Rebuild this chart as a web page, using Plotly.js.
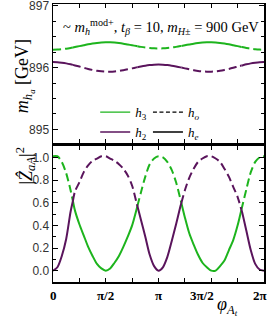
<!DOCTYPE html>
<html>
<head>
<meta charset="utf-8">
<script src="https://cdn.plot.ly/plotly-3.0.1.min.js"></script>
<style>html,body{margin:0;padding:0;background:#fff;}#chart{width:271px;height:325px;}</style>
</head>
<body>
<div id="chart"></div>
<script>
// phase phi_{A_t} in degrees (sample grid)
const phiDeg = [0,7.5,15,22.5,30,37.5,45,52.5,60,67.5,75,82.5,90,97.5,105,112.5,120,127.5,135,142.5,150,157.5,165,172.5,180,187.5,195,202.5,210,217.5,225,232.5,240,247.5,255,262.5,270,277.5,285,292.5,300,307.5,315,322.5,330,337.5,345,352.5,360];
// |Z_aA|^2 (lower panel)
const zH3 = [1.01,1.01,0.96,0.86,0.71,0.53,0.41,0.31,0.21,0.13,0.06,0.02,0.00,0.02,0.07,0.13,0.21,0.30,0.40,0.54,0.69,0.83,0.94,0.99,1.01,1.00,0.96,0.89,0.78,0.63,0.47,0.33,0.23,0.14,0.07,0.03,0.00,0.00,0.04,0.09,0.18,0.27,0.40,0.56,0.72,0.87,0.96,1.00,1.01];
const zH2 = [0.00,0.03,0.13,0.28,0.52,0.70,0.78,0.87,0.93,0.97,0.99,1.01,1.01,0.99,0.97,0.94,0.90,0.84,0.75,0.60,0.45,0.30,0.14,0.04,0.00,0.03,0.12,0.26,0.41,0.57,0.71,0.82,0.90,0.96,0.99,1.01,1.01,0.99,0.96,0.90,0.83,0.74,0.65,0.52,0.35,0.18,0.06,0.01,0.00];
// masses m_{h_a} in GeV (upper panel)
const mH3 = [896.290,896.292,896.298,896.307,896.319,896.333,896.348,896.363,896.378,896.390,896.400,896.407,896.410,896.409,896.405,896.398,896.388,896.375,896.362,896.349,896.336,896.325,896.317,896.312,896.310,896.312,896.317,896.325,896.336,896.349,896.362,896.375,896.388,896.398,896.405,896.409,896.410,896.407,896.400,896.390,896.378,896.363,896.348,896.333,896.319,896.307,896.298,896.292,896.290];
const mH2 = [896.090,896.088,896.080,896.069,896.054,896.036,896.017,895.997,895.979,895.963,895.949,895.940,895.935,895.935,895.939,895.947,895.959,895.973,895.988,896.004,896.019,896.032,896.042,896.048,896.050,896.048,896.042,896.032,896.019,896.004,895.988,895.973,895.959,895.947,895.939,895.935,895.935,895.940,895.949,895.963,895.979,895.997,896.017,896.036,896.054,896.069,896.080,896.088,896.090];
// x tick labels
const xTickVals = [0, Math.PI/2, Math.PI, 3*Math.PI/2, 2*Math.PI];
const xTickText = ['0', 'π/2', 'π', '3π/2', '2π'];
const xTickShift = [0, 0, 0, -9, -4];
const legendNames = ['<i>h</i><sub>3</sub>', '<i>h</i><sub>2</sub>', '<i>h</i><sub><i>o</i></sub>', '<i>h</i><sub><i>e</i></sub>'];

const GREEN = '#1db41d', PURPLE = '#5a145c';
const phi = phiDeg.map(d => d * Math.PI / 180);

function crossings(a, b) {
  const out = [];
  for (let i = 1; i < a.length; i++) {
    const d0 = a[i-1] - b[i-1], d1 = a[i] - b[i];
    if (d0 * d1 < 0) out.push(i - 1 + d0 / (d0 - d1));
  }
  return out;
}
function lerp(arr, f) {
  const i = Math.floor(f), t = f - i;
  if (i >= arr.length - 1) return arr[arr.length - 1];
  return arr[i] * (1 - t) + arr[i+1] * t;
}
const cuts = crossings(zH3, zH2);
function pieces(ys, cutsArr) {
  const bounds = [0, ...cutsArr, ys.length - 1];
  const res = [];
  for (let s = 0; s < bounds.length - 1; s++) {
    const f0 = bounds[s], f1 = bounds[s+1];
    const px = [lerp(phi, f0)], py = [lerp(ys, f0)];
    for (let i = Math.floor(f0) + 1; i < f1; i++) { px.push(phi[i]); py.push(ys[i]); }
    px.push(lerp(phi, f1)); py.push(lerp(ys, f1));
    const mid = Math.round((f0 + f1) / 2);
    res.push({x: px, y: py, h3dom: zH3[mid] > zH2[mid]});
  }
  return res;
}
const traces = [];
function addCurve(ys, color, isH3, xa, ya) {
  pieces(ys, cuts).forEach(p => {
    const dashed = isH3 ? p.h3dom : !p.h3dom;
    traces.push({x: p.x, y: p.y, xaxis: xa, yaxis: ya, mode: 'lines', showlegend: false, hoverinfo: 'skip',
      line: {color: color, width: 2, dash: dashed ? '8px,4px' : 'solid', shape: 'spline', smoothing: 0.8}});
  });
}
addCurve(mH3, GREEN, true, 'x', 'y');
addCurve(mH2, PURPLE, false, 'x', 'y');
addCurve(zH3, GREEN, true, 'x2', 'y2');
addCurve(zH2, PURPLE, false, 'x2', 'y2');

// legend entries
const legStyles = [
  {color: GREEN, dash: 'solid', legend: 'legend'},
  {color: PURPLE, dash: 'solid', legend: 'legend'},
  {color: '#000', dash: '4px,2.5px', legend: 'legend2'},
  {color: '#000', dash: 'solid', legend: 'legend2'}
];
legendNames.forEach((n, i) => {
  traces.push({x: [null], y: [null], xaxis: 'x', yaxis: 'y', mode: 'lines', name: n,
    legend: legStyles[i].legend, showlegend: true,
    line: {color: legStyles[i].color, width: 1.3, dash: legStyles[i].dash}});
});

const serif = 'Liberation Serif, DejaVu Serif, serif';
const sans = 'Liberation Sans, Arial, sans-serif';
const axisCommon = {
  showline: true, linecolor: '#000', linewidth: 1.5, mirror: 'allticks',
  ticks: 'inside', tickcolor: '#000', tickwidth: 1, showgrid: false, zeroline: false,
  ticklabeloverflow: 'allow',
  tickfont: {family: sans, size: 12, color: '#333'}
};
const annotations = [];
xTickVals.forEach((v, i) => {
  annotations.push({x: v, xref: 'x2', y: -0.047, yref: 'paper', text: xTickText[i], showarrow: false,
    xshift: xTickShift[i], xanchor: 'center', yanchor: 'middle',
    font: {family: serif, size: 13, color: '#000', weight: 'bold'}});
});
annotations.push({x: 0.885, y: -0.137, xref: 'paper', yref: 'paper', showarrow: false,
  text: '<i>φ</i><sub><i>A</i><sub><i>t</i></sub></sub>', font: {family: serif, size: 18, color: '#000'}});
annotations.push({x: -0.2, y: 0.88, xref: 'paper', yref: 'paper', showarrow: false, textangle: -90,
  text: '<i>m</i><sub><i>h</i><sub><i>a</i></sub></sub> [GeV]', font: {family: serif, size: 18, color: '#000'}});
annotations.push({x: -0.2, y: 0.42, xref: 'paper', yref: 'paper', showarrow: false, textangle: -90,
  text: '|<i>Ẑ</i><sub><i>aA</i></sub>|<sup>2</sup>', font: {family: serif, size: 18, color: '#000'}});
annotations.push({x: 0.51, y: 0.96, xref: 'paper', yref: 'paper', showarrow: false,
  text: '~ <i>m</i><sub><i>h</i></sub><sup>mod+</sup>, <i>t</i><sub><i>β</i></sub> = 10, <i>m</i><sub><i>H</i>±</sub> = 900 GeV',
  font: {family: serif, size: 14.5, color: '#000'}});

const layout = {
  width: 271, height: 325,
  margin: {l: 53, r: 7, t: 4, b: 43},
  paper_bgcolor: '#fff', plot_bgcolor: '#fff',
  showlegend: true,
  xaxis: Object.assign({}, axisCommon, {domain: [0, 1], range: [0, 2*Math.PI], anchor: 'y',
    tickmode: 'linear', tick0: 0, dtick: Math.PI/2, ticklen: 4, showticklabels: false,
    minor: {dtick: Math.PI/4, ticklen: 4, tickcolor: '#000', ticks: 'inside'}}),
  yaxis: Object.assign({}, axisCommon, {domain: [0.5, 1], range: [894.78, 897.03], anchor: 'x',
    tickmode: 'linear', tick0: 895, dtick: 1, ticklen: 5,
    minor: {dtick: 0.25, ticklen: 3, tickcolor: '#000', ticks: 'inside'}}),
  xaxis2: Object.assign({}, axisCommon, {domain: [0, 1], range: [0, 2*Math.PI], anchor: 'y2',
    tickmode: 'linear', tick0: 0, dtick: Math.PI/2, ticklen: 4, showticklabels: false,
    minor: {dtick: Math.PI/4, ticklen: 4, tickcolor: '#000', ticks: 'inside'}}),
  yaxis2: Object.assign({}, axisCommon, {domain: [0, 0.489], range: [-0.1, 1.1], anchor: 'x2',
    tickmode: 'linear', tick0: 0, dtick: 0.2, tickformat: '.1f', ticklen: 5,
    minor: {dtick: 0.1, ticklen: 3, tickcolor: '#000', ticks: 'inside'}}),
  legend: {x: 0.2, y: 0.665, xanchor: 'left', yanchor: 'top', bgcolor: 'rgba(0,0,0,0)',
    font: {family: serif, size: 13, color: '#000'}, tracegroupgap: 0},
  legend2: {x: 0.45, y: 0.665, xanchor: 'left', yanchor: 'top', bgcolor: 'rgba(0,0,0,0)',
    font: {family: serif, size: 13, color: '#000'}, tracegroupgap: 0},
  annotations: annotations
};
Plotly.newPlot('chart', traces, layout, {displayModeBar: false, staticPlot: true});
</script>
</body>
</html>
